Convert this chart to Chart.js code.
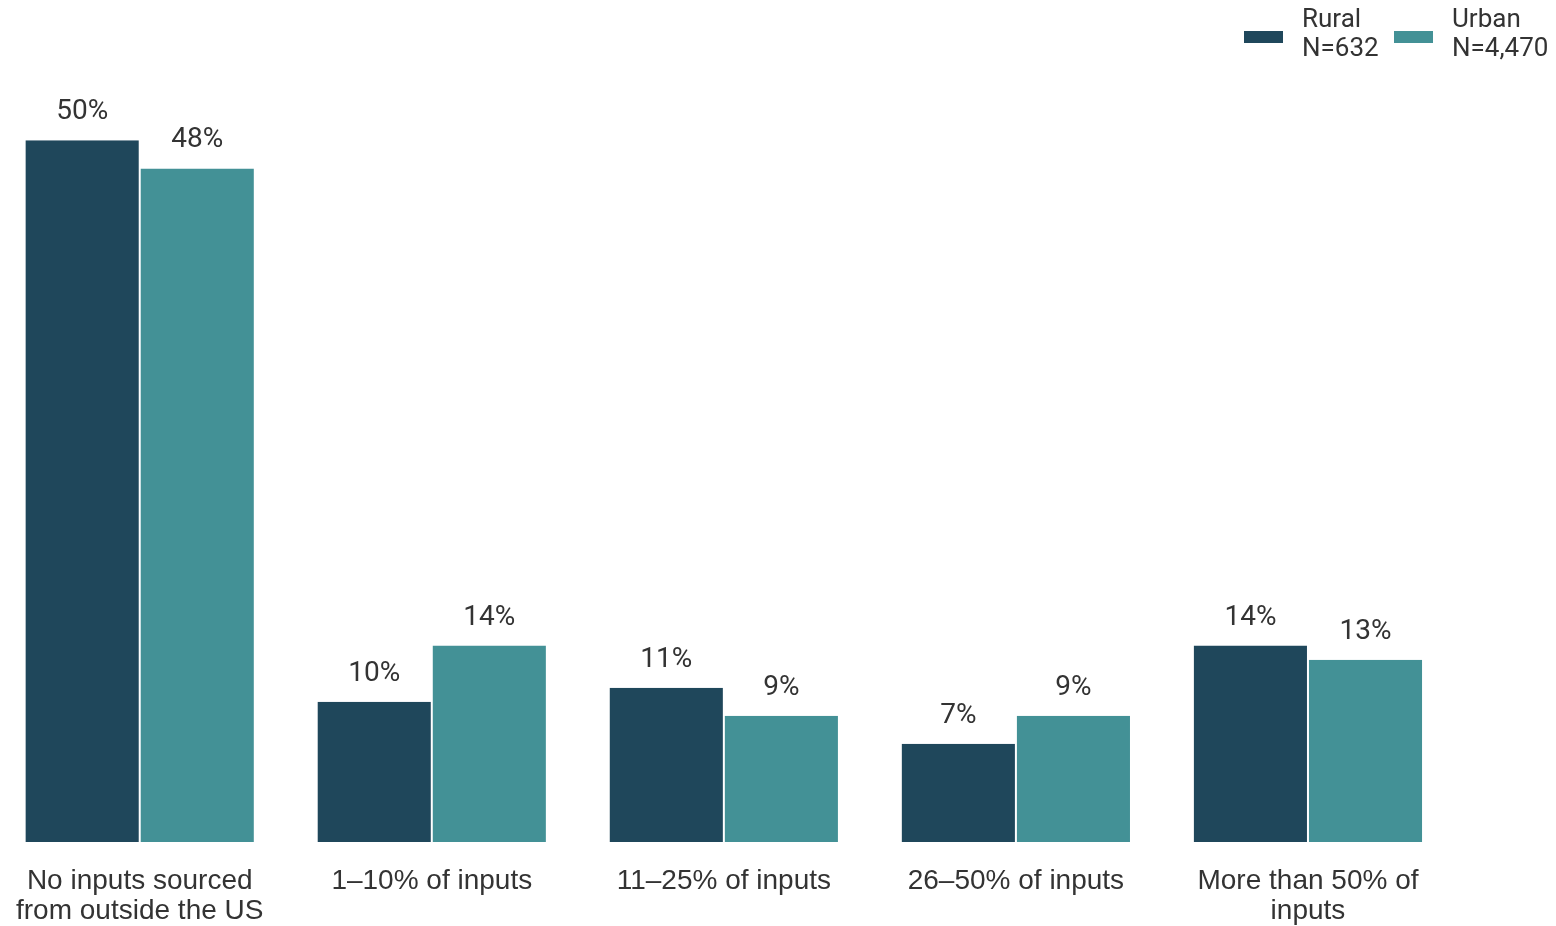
<!DOCTYPE html>
<html>
<head>
<meta charset="utf-8">
<script src="https://cdn.jsdelivr.net/npm/chart.js@4"></script>
<style>
  body { margin: 0; background: #fff; overflow: hidden; }
  #wrap { position: absolute; left: -8px; top: 0; width: 1564px; height: 950px; }
</style>
</head>
<body>
<div id="wrap"><canvas id="myChart"></canvas></div>
<script>
// categorias e valores (%)
const categorias = [
  ['No inputs sourced', 'from outside the US'],
  '1–10% of inputs',
  '11–25% of inputs',
  '26–50% of inputs',
  ['More than 50% of', 'inputs']
];
const rural = [50, 10, 11, 7, 14];
const urban = [48, 14, 9, 9, 13];
const legendas = [['Rural', 'N=632'], ['Urban', 'N=4,470']];

const corRural = '#1f475b';
const corUrban = '#439196';

// rótulos de valor acima das barras
const valueLabels = {
  id: 'valueLabels',
  afterDatasetsDraw(chart) {
    const ctx = chart.ctx;
    ctx.save();
    ctx.font = '28px Roboto';
    ctx.fillStyle = '#333';
    ctx.textAlign = 'center';
    ctx.textBaseline = 'middle';
    chart.data.datasets.forEach((ds, i) => {
      chart.getDatasetMeta(i).data.forEach((bar, j) => {
        ctx.fillText(ds.data[j] + '%', bar.x, bar.y - 28);
      });
    });
    ctx.restore();
  }
};

// legenda com duas linhas
const legendaCustom = {
  id: 'legendaCustom',
  afterDraw(chart) {
    const ctx = chart.ctx;
    ctx.save();
    ctx.font = '26px Roboto';
    ctx.textBaseline = 'middle';
    ctx.textAlign = 'left';
    const xs = [1252, 1402];
    chart.data.datasets.forEach((ds, i) => {
      ctx.fillStyle = ds.backgroundColor;
      ctx.fillRect(xs[i], 31, 39, 12);
      ctx.fillStyle = '#333';
      ctx.fillText(legendas[i][0], xs[i] + 58, 20);
      ctx.fillText(legendas[i][1], xs[i] + 58, 49);
    });
    ctx.restore();
  }
};

new Chart(document.getElementById('myChart'), {
  type: 'bar',
  data: {
    labels: categorias,
    datasets: [
      {
        label: 'Rural',
        data: rural,
        backgroundColor: corRural,
        borderColor: '#ffffff',
        borderWidth: { left: 1, right: 1, top: 0, bottom: 0 },
        categoryPercentage: 0.788,
        barPercentage: 1
      },
      {
        label: 'Urban',
        data: urban,
        backgroundColor: corUrban,
        borderColor: '#ffffff',
        borderWidth: { left: 1, right: 1, top: 0, bottom: 0 },
        categoryPercentage: 0.788,
        barPercentage: 1
      }
    ]
  },
  options: {
    responsive: true,
    maintainAspectRatio: false,
    animation: false,
    layout: { padding: { top: 0, right: 102, bottom: 0, left: 0 } },
    plugins: {
      legend: { display: false },
      tooltip: { enabled: false }
    },
    scales: {
      x: {
        grid: { display: false, drawTicks: false },
        border: { display: false },
        ticks: {
          color: '#333',
          font: { family: "'Liberation Sans', Arial", size: 28, lineHeight: 1.07 },
          padding: 24,
          maxRotation: 0,
          autoSkip: false
        }
      },
      y: {
        display: false,
        min: 0,
        max: 60
      }
    }
  },
  plugins: [valueLabels, legendaCustom]
});
</script>
</body>
</html>
